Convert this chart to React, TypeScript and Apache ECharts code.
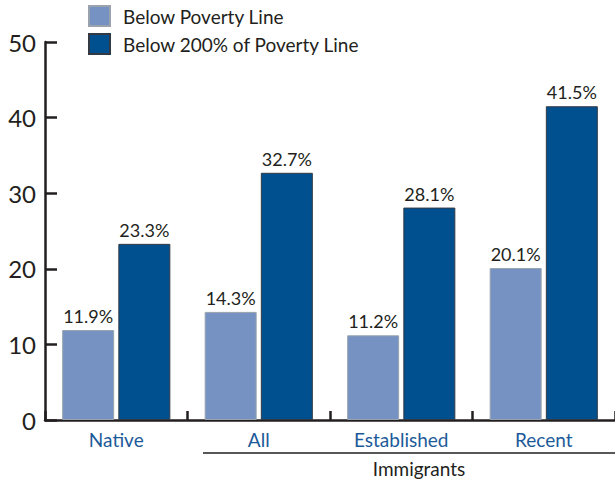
import React, { useEffect, useRef } from "react";
import * as echarts from "echarts";

const categories = ["Native", "All", "Established", "Recent"];
const belowPoverty = [11.9, 14.3, 11.2, 20.1];
const below200 = [23.3, 32.7, 28.1, 41.5];
const yTicks = [0, 10, 20, 30, 40, 50];

const FONT = "Lato, 'Open Sans', sans-serif";
const INK = "#231f20";

export default function App() {
  const ref = useRef<HTMLDivElement>(null);
  useEffect(() => {
    if (!ref.current) return;
    const chart = echarts.init(ref.current, undefined, { renderer: "svg" });
    const labelStyle = {
      show: true,
      position: "top" as const,
      distance: 5,
      fontFamily: FONT,
      fontSize: 18,
      color: INK,
      formatter: (p: any) => p.value.toFixed(1) + "%",
    };
    chart.setOption({
      animation: false,
      textStyle: { fontFamily: FONT },
      legend: {
        orient: "vertical",
        left: 88,
        top: 5,
        padding: 0,
        itemWidth: 21,
        itemHeight: 20,
        itemGap: 6,
        icon: "rect",
        textStyle: { fontFamily: FONT, fontSize: 19, lineHeight: 20, color: INK, padding: [0, 0, 0, 8] },
        data: ["Below Poverty Line", "Below 200% of Poverty Line"],
      },
      grid: { left: 45, right: 0, top: 42, bottom: 63, containLabel: false },
      xAxis: {
        type: "category",
        data: categories,
        axisLine: { lineStyle: { color: INK, width: 2.5 } },
        axisTick: { show: true, inside: true, length: 9, lineStyle: { color: INK, width: 2.5 } },
        axisLabel: { color: "#1d5a99", fontFamily: FONT, fontSize: 19, margin: 10 },
      },
      yAxis: {
        type: "value",
        min: yTicks[0],
        max: yTicks[yTicks.length - 1],
        interval: 10,
        splitLine: { show: false },
        axisLine: { show: true, lineStyle: { color: INK, width: 2.5 } },
        axisTick: { show: true, inside: true, length: 12, lineStyle: { color: INK, width: 2.5 } },
        axisLabel: { color: INK, fontFamily: FONT, fontSize: 24, margin: 9 },
      },
      series: [
        {
          name: "Below Poverty Line",
          type: "bar",
          data: belowPoverty,
          barWidth: 52,
          barGap: "8%",
          itemStyle: { color: "#7592c2", borderColor: "#9aa3ad", borderWidth: 1 },
          label: labelStyle,
        },
        {
          name: "Below 200% of Poverty Line",
          type: "bar",
          data: below200,
          barWidth: 52,
          barGap: "8%",
          itemStyle: { color: "#00508f", borderColor: "#333a44", borderWidth: 1 },
          label: labelStyle,
        },
      ],
      graphic: [
        {
          type: "line",
          shape: { x1: 203, y1: 453, x2: 615, y2: 453 },
          style: { stroke: INK, lineWidth: 1.5 },
        },
        {
          type: "text",
          x: 419,
          y: 468,
          style: {
            text: "Immigrants",
            fontFamily: FONT,
            fontSize: 19,
            fill: INK,
            align: "center",
            verticalAlign: "middle",
          },
        },
      ],
    });
    return () => chart.dispose();
  }, []);
  return <div ref={ref} style={{ width: 615, height: 483, position: "absolute", left: 0, top: 0 }} />;
}
